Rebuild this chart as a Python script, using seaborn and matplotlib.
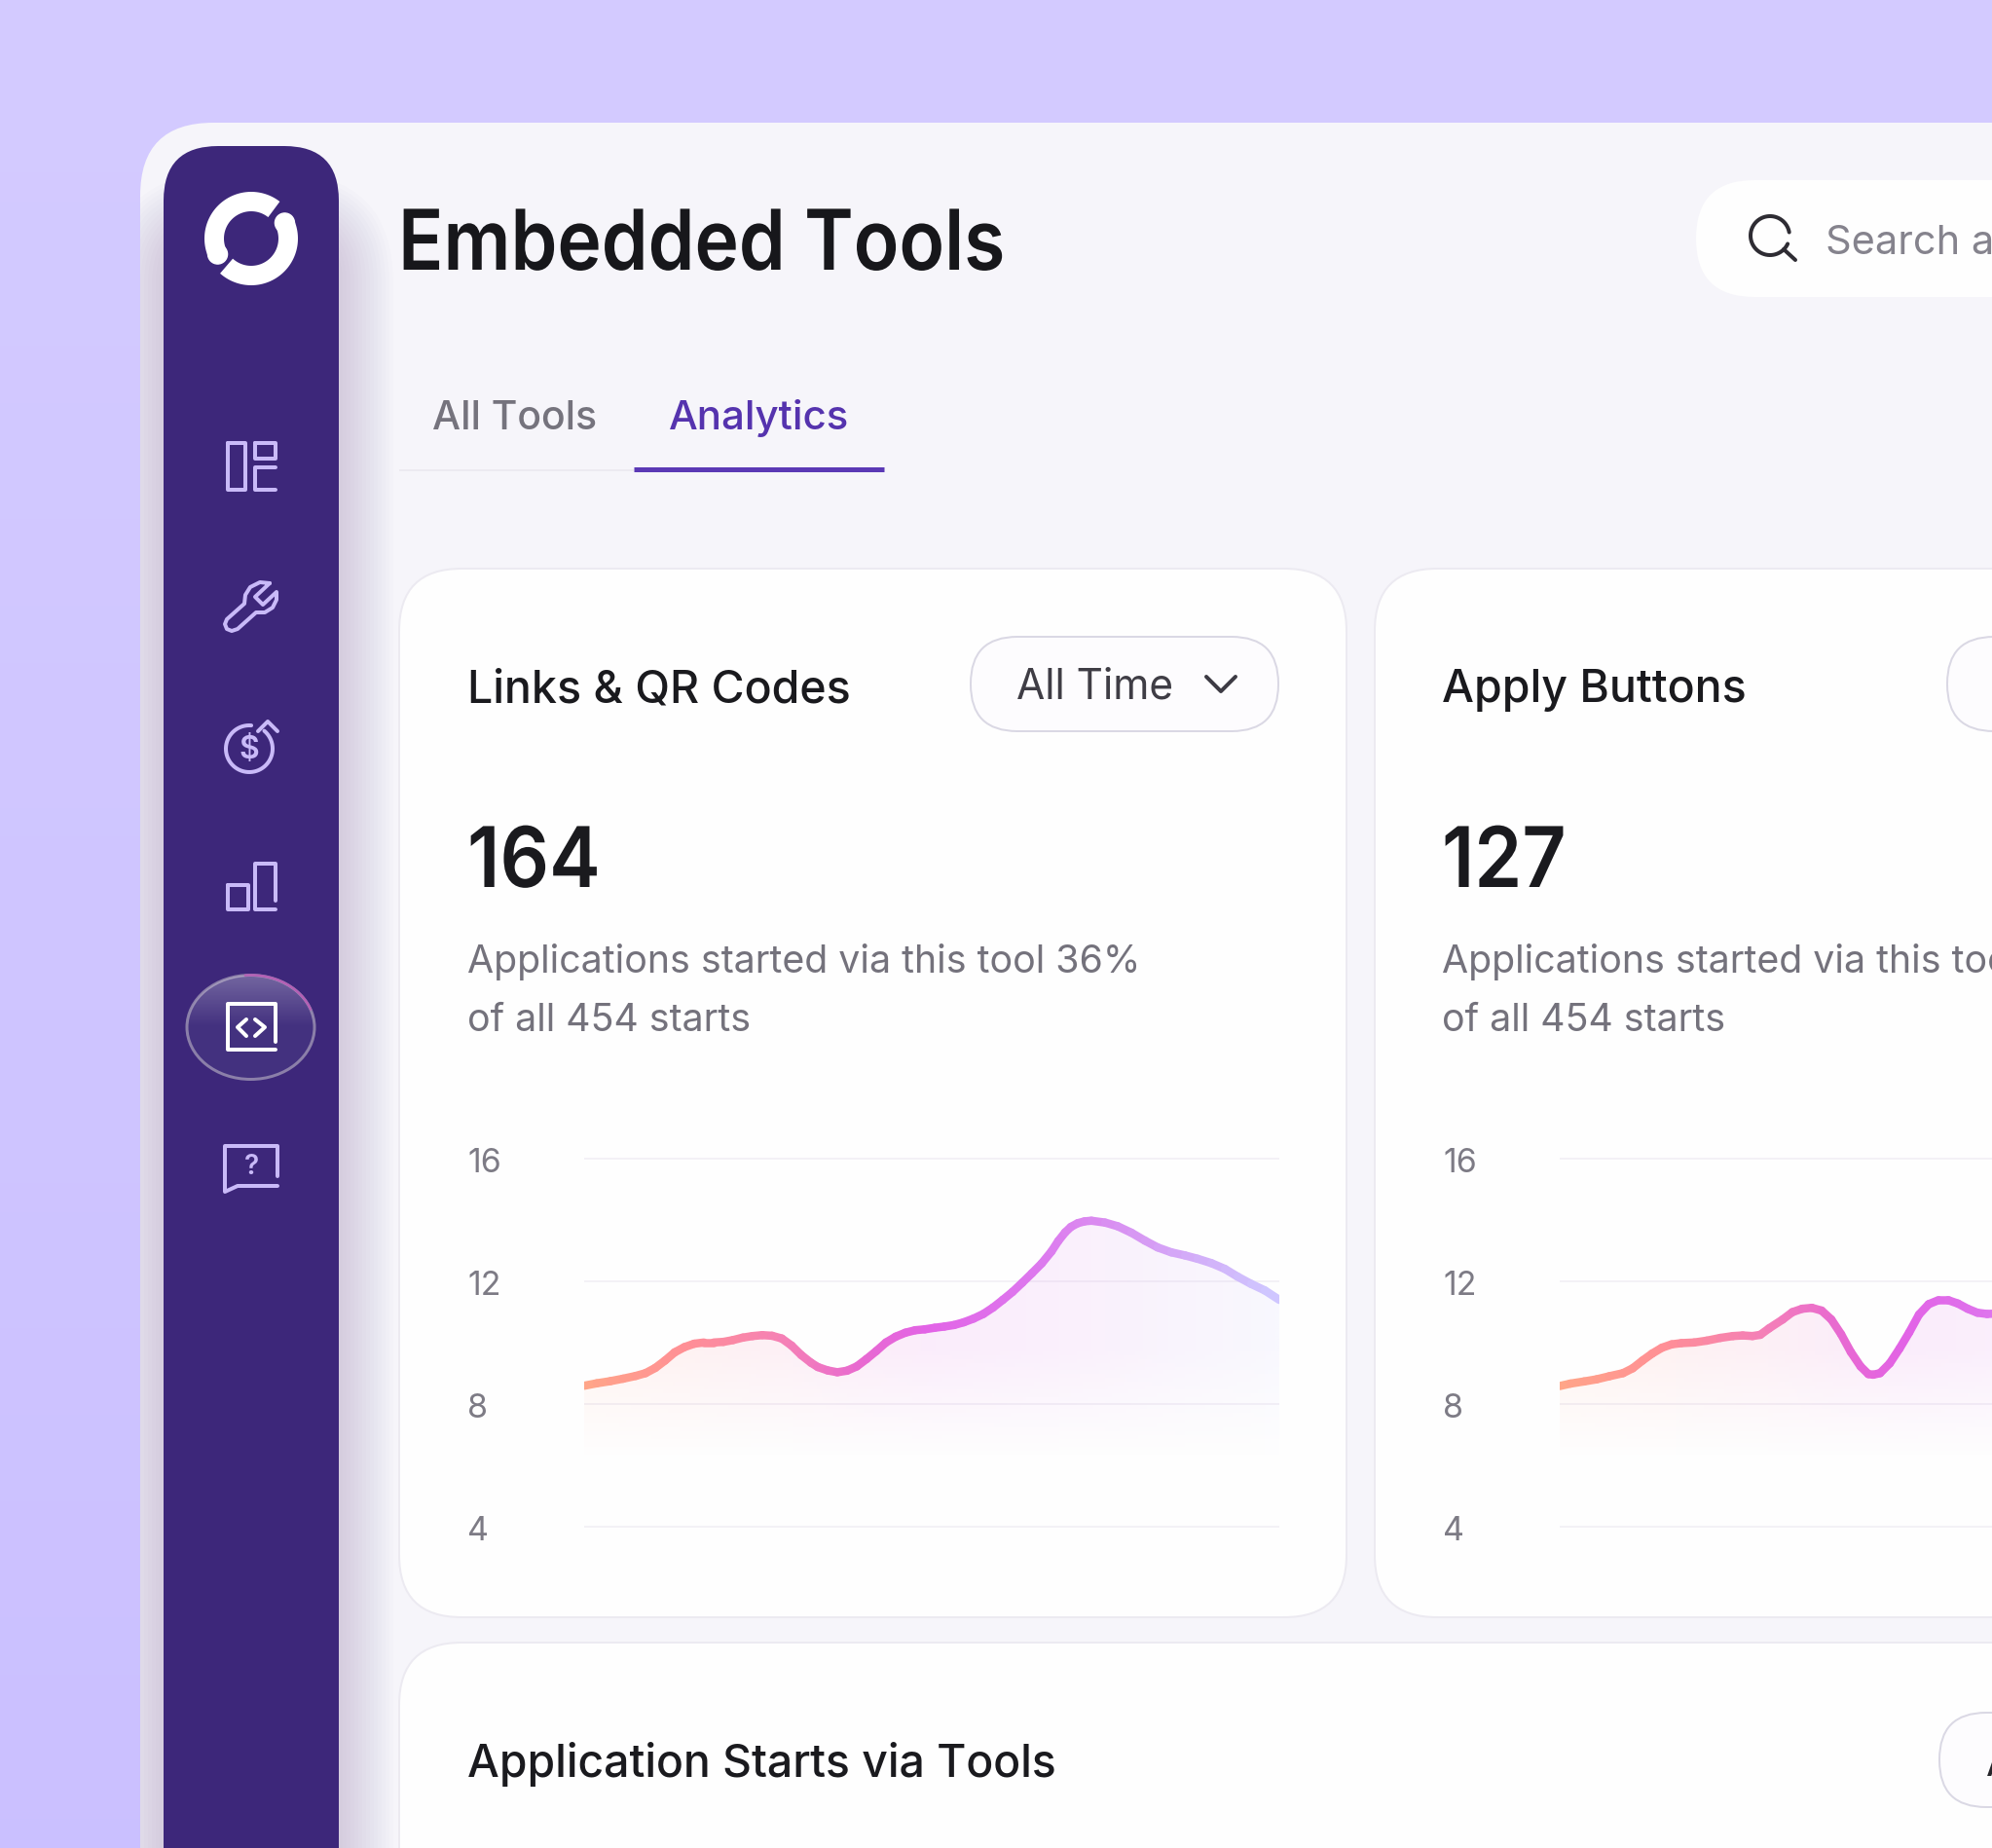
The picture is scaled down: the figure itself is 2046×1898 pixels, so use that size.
import numpy as np
import pandas as pd
import matplotlib
matplotlib.use('Agg')
import matplotlib.pyplot as plt
from matplotlib.patches import FancyBboxPatch, Circle, Ellipse
from matplotlib.patheffects import AbstractPathEffect
from matplotlib.transforms import Affine2D
from matplotlib.colors import LinearSegmentedColormap, to_hex
import seaborn as sns

# values
links_time = [0, 13, 27, 40, 53, 63, 73, 83, 93, 103, 113, 123, 133, 143, 153, 163, 173, 183, 193, 203,
              213, 223, 233, 240, 250, 260, 270, 280, 290, 300, 310, 320, 330, 340, 350, 360, 370, 380,
              390, 400, 410, 420, 430, 440, 450, 460, 470, 480, 487, 494, 500, 507, 514, 521, 535, 548, 562,
              576, 589, 603, 617, 630, 644, 658, 671, 685, 699, 714]
links_vals = [8.58, 8.66, 8.73, 8.81, 8.90, 8.99, 9.16, 9.40, 9.67, 9.84, 9.95, 9.99, 9.99, 10.01, 10.07,
              10.15, 10.20, 10.23, 10.21, 10.12, 9.89, 9.58, 9.33, 9.19, 9.08, 9.02, 9.07, 9.21, 9.45,
              9.71, 9.99, 10.18, 10.31, 10.39, 10.42, 10.47, 10.51, 10.56, 10.65, 10.77, 10.92, 11.13,
              11.38, 11.64, 11.94, 12.25, 12.57, 12.96, 13.30, 13.58, 13.76, 13.88, 13.94, 13.96, 13.90, 13.78,
              13.57, 13.31, 13.09, 12.93, 12.83, 12.72, 12.58, 12.39, 12.14, 11.90, 11.69, 11.38]
apply_time = [0, 11, 25, 38, 51, 65, 75, 85, 95, 105, 115, 125, 138, 151, 165, 178, 188, 198, 206, 215,
              229, 239, 249, 259, 269, 279, 289, 299, 309, 317, 322, 329, 339, 349, 359, 369, 379, 389,
              399, 409, 419, 429, 439, 452]
apply_vals = [8.57, 8.65, 8.72, 8.79, 8.89, 8.99, 9.15, 9.40, 9.63, 9.82, 9.93, 9.97, 9.99, 10.05, 10.14,
              10.20, 10.22, 10.20, 10.24, 10.45, 10.74, 10.98, 11.09, 11.12, 11.03, 10.74, 10.26, 9.68,
              9.21, 8.96, 8.94, 8.99, 9.31, 9.79, 10.32, 10.90, 11.24, 11.37, 11.37, 11.26, 11.09, 10.96,
              10.92, 10.94]
y_ticks = [4, 8, 12, 16]
time_span = 714

W, H = 2046, 1899
sns.set_style('white')
plt.rcParams['font.family'] = ['Inter', 'DejaVu Sans']

fig = plt.figure(figsize=(W / 100, H / 100), dpi=100, facecolor='#D3CAFF')
bg = fig.add_axes([0, 0, 1, 1], zorder=0)
bg.axis('off')

INK = '#1A1A1E'
GREY = '#74727C'
LAV = '#C9BAF8'


class Squeeze(AbstractPathEffect):
    # narrows a text sideways about its left edge, the reference type is set tighter than Inter here
    def __init__(self, x0, sx):
        super().__init__()
        self.x0 = x0
        self.sx = sx

    def draw_path(self, renderer, gc, tpath, affine, rgbFace=None):
        t = Affine2D().translate(-self.x0, 0).scale(self.sx, 1).translate(self.x0, 0)
        renderer.draw_path(gc, tpath, affine + t, rgbFace)


def px(v):
    return v * 0.72


def box(x, y, w, h, r, fc, ec='none', lw=0, alpha=None, z=1):
    p = FancyBboxPatch((x, y), w, h, boxstyle='round,pad=0,rounding_size=%g' % r, fc=fc, ec=ec,
                       lw=px(lw), alpha=alpha, zorder=z)
    bg.add_patch(p)
    return p


def txt(x, y, s, size, color=INK, weight='normal', sx=None, z=6):
    t = bg.text(x, y, s, fontsize=px(size), color=color, fontweight=weight, va='baseline', ha='left', zorder=z)
    if sx:
        t.set_path_effects([Squeeze(x, sx)])
    return t


def stroke(pts, color=LAV, lw=4, cap='round', z=5):
    pts = np.array(pts, dtype=float)
    bg.plot(pts[:, 0], pts[:, 1], color=color, lw=px(lw), solid_capstyle=cap, solid_joinstyle='round', zorder=z)


def arc(cx, cy, r, a0, a1, ry=None):
    a = np.radians(np.linspace(a0, a1, 60))
    return np.c_[cx + r * np.cos(a), cy - (ry or r) * np.sin(a)]


# backdrop gets a touch deeper towards the bottom
back = np.zeros((64, 1, 3))
back[:, 0, :] = np.linspace((0.831, 0.796, 1.0), (0.796, 0.753, 1.0), 64)
bg.imshow(back, extent=(0, W, H, 0), aspect='auto', zorder=0)
bg.set_xlim(0, W)
bg.set_ylim(H, 0)

# panel, sidebar and its soft shadow
panel = box(144, 127, W, H, 75, '#F6F5FA', z=1)
for i in range(14):
    grow = 4 * (i + 1)
    s = box(168 - grow, 235 - grow, 180 + 2 * grow, H, 58 + grow, '#3D277A', alpha=0.012, z=2)
    s.set_clip_path(panel)
box(168, 151, 180, H, 56, '#3D277A', z=3)

# logo
stroke(arc(258, 246, 38, 52, 205), '#FFFFFF', 20, 'butt')
stroke(arc(258, 246, 38, 228, 385), '#FFFFFF', 20, 'butt')
bg.add_patch(Circle(arc(258, 246, 38, 205, 205)[0], 10, fc='#FFFFFF', zorder=5))
bg.add_patch(Circle(arc(258, 246, 38, 25, 25)[0], 10, fc='#FFFFFF', zorder=5))

# nav icons
stroke([(234, 456), (252, 456), (252, 504), (234, 504), (234, 456)])
stroke([(262, 456), (283, 456), (283, 472), (262, 472), (262, 456)])
stroke([(283, 481), (262, 481), (262, 504), (283, 504)])
stroke([(277, 600), (262, 614), (270, 622), (284, 609), (284, 617), (280, 625), (272, 630), (263, 630),
        (244, 647), (238, 649), (233, 647), (231, 642), (233, 637), (251, 621), (252, 612), (257, 604),
        (267, 599), (277, 600)])
stroke(arc(256, 770, 24, 85, 410))
stroke([(265, 752), (275, 742), (285, 752)])
bg.text(256, 771, '$', fontsize=px(32), color=LAV, ha='center', va='center', fontweight='semibold', zorder=5)
stroke([(234, 910), (255, 910), (255, 935), (234, 935), (234, 910)])
stroke([(283, 926), (283, 888), (262, 888), (262, 935), (283, 935)])

# active item
pill = Ellipse((257.5, 1056), 131, 107, fc='#43317F', ec='#8B7FA9', lw=px(3), zorder=4)
bg.add_patch(pill)
glow = np.ones((100, 2, 4))
glow[:, :, 3] = np.clip(0.26 * (1 - np.linspace(0, 1, 100) / 0.5), 0, None)[:, None]
im = bg.imshow(glow, extent=(192, 323, 1109, 1002), aspect='auto', zorder=4.2)
im.set_clip_path(pill)
bg.set_xlim(0, W)
bg.set_ylim(H, 0)
stroke(arc(257.5, 1056, 65.5, 20, 95, ry=53.5), '#B45FB5', 2.5, z=4.5)
stroke([(283, 1071), (283, 1032), (234, 1032), (234, 1079), (283, 1079)], '#FFFFFF', 4)
stroke([(253, 1048), (244, 1056), (253, 1065)], '#FFFFFF', 4)
stroke([(262, 1048), (272, 1056), (262, 1065)], '#FFFFFF', 4)

# help icon
stroke([(285, 1209), (285, 1178), (231, 1178), (231, 1225), (244, 1219), (285, 1219)])
bg.text(258, 1199, '?', fontsize=px(28), color=LAV, ha='center', va='center', fontweight='semibold', zorder=5)

# header
txt(409, 278, 'Embedded Tools', 86, '#17171B', 'semibold', sx=0.892)
box(1742, 186, 500, 120, 60, '#FEFEFE', z=2)
stroke(arc(1818, 243, 20, 10, 335), '#2E2C33', 4)
stroke([(1832, 257), (1844, 268)], '#2E2C33', 4)
txt(1875, 261, 'Search a', 41.5, '#85838D')
txt(444, 441, 'All Tools', 41, '#75737D', 'medium')
txt(687, 441, 'Analytics', 42, '#5533AE', 'medium')
stroke([(410, 484), (651, 484)], '#ECEAF1', 2, 'butt')
stroke([(651, 483), (908, 483)], '#5B39B5', 5, 'butt')

# cards
card_kw = dict(r=64, fc='#FEFEFE', ec='#ECEAF1', lw=2, z=3)
box(410, 585, 973, 1077, **card_kw)
box(1412, 585, 972, 1077, **card_kw)
box(410, 1688, W, 700, **card_kw)


def range_pill(x, y):
    box(x, y, 316, 97, 48, '#FDFCFE', ec='#DAD8E4', lw=2, z=4)


range_pill(997, 655)
txt(1044, 717, 'All Time', 42.4, '#3F3D45')
stroke([(1239, 696), (1254, 711), (1269, 696)], '#3D3B44', 4)
range_pill(2000, 655)
range_pill(1992, 1760)
txt(2040, 1824, 'All Time', 42.4, '#26252A')

txt(480, 721, 'Links & QR Codes', 46.5, INK, 'medium')
txt(1481, 721, 'Apply Buttons', 46.5, INK, 'medium')
txt(480, 1825, 'Application Starts via Tools', 46.3, INK, 'medium')
txt(480, 912, '164', 86, INK, 'semibold', sx=0.92)
txt(1481, 912, '127', 86, INK, 'semibold', sx=0.915)
txt(480, 999, 'Applications started via this tool 36%', 39.3, GREY)
txt(480, 1059, 'of all 454 starts', 39.3, GREY)
txt(1481, 999, 'Applications started via this tool', 39.3, GREY)
txt(1481, 1059, 'of all 454 starts', 39.3, GREY)

# colour ramp along the time axis
ramp = LinearSegmentedColormap.from_list('ramp', [
    (0.0, '#FFA688'), (0.15, '#FF8F95'), (0.3, '#F47FB8'), (0.4, '#E86AD0'), (0.5, '#E263E6'),
    (0.65, '#DD78EE'), (0.75, '#DA8CF0'), (0.87, '#D3AAF8'), (1.0, '#CFC8FF')])


def area_chart(left, times, vals):
    # ylim runs one unit past the ticks so the outer gridlines are not clipped
    ax = fig.add_axes([left / W, 1 - (1568.5 + 31.5) / H, time_span / W, 31.5 * 14 / H], zorder=2)
    ax.set_facecolor('none')
    ax.grid(axis='y', color='#F3F1F6', lw=px(2))
    ax.set_axisbelow(True)

    # pale fill fading out downwards
    n = 300
    shade = np.zeros((n, n, 4))
    shade[:, :, :3] = ramp(np.linspace(0, 1, n))[:, :3]
    v = np.linspace(14, 5, n)[:, None]
    shade[:, :, 3] = 0.11 * np.clip((v - 6.2) / 3.5, 0, 1)
    fill = ax.fill_between(times, vals, 0, color='none', lw=0)
    im = ax.imshow(shade, extent=(0, time_span, 5, 14), aspect='auto', zorder=1.5)
    im.set_clip_path(fill.get_paths()[0], transform=ax.transData)

    # one short piece per step so the stroke can follow the ramp
    rows = []
    for i in range(len(times) - 1):
        rows.append((times[i], vals[i], i))
        rows.append((times[i + 1], vals[i + 1], i))
    df = pd.DataFrame(rows, columns=['time', 'value', 'piece'])
    pal = {i: to_hex(ramp((times[i] + times[i + 1]) / 2 / time_span)) for i in range(len(times) - 1)}
    sns.lineplot(data=df, x='time', y='value', hue='piece', palette=pal, estimator=None, sort=False,
                 legend=False, lw=px(8.5), ax=ax, zorder=3)
    for line in ax.lines:
        line.set_solid_capstyle('round')

    ax.set_xlim(0, time_span)
    ax.set_ylim(3, 17)
    ax.set_xticks([])
    ax.set_yticks(y_ticks)
    ax.set_yticklabels([str(t) for t in y_ticks], ha='left')
    ax.tick_params(axis='y', length=0, pad=px(120), labelsize=px(34), labelcolor='#7D7B85')
    for lab in ax.get_yticklabels():
        lab.set_transform(lab.get_transform() + Affine2D().translate(0, -1.5))
    ax.set_xlabel('')
    ax.set_ylabel('')
    sns.despine(ax=ax, left=True, bottom=True)


area_chart(600, links_time, links_vals)
area_chart(1602, apply_time, apply_vals)

fig.savefig('out.png', dpi=100, facecolor=fig.get_facecolor())
